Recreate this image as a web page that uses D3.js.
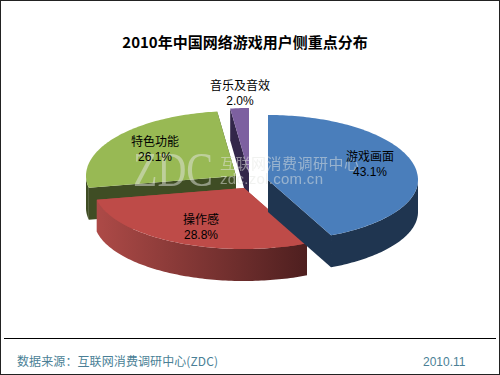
<!DOCTYPE html>
<html><head><meta charset="utf-8">
<script src="https://cdn.jsdelivr.net/npm/d3@7/dist/d3.min.js"></script>
<style>html,body{margin:0;padding:0;background:#fff}svg{display:block}</style></head>
<body><svg id="c" width="500" height="375"></svg>
<script>
const titleText = "2010年中国网络游戏用户侧重点分布";
const categories = ["游戏画面","操作感","特色功能","音乐及音效"];
const values = [43.1,28.8,26.1,2.0];
const topColors = ["#4a7ebb","#be4b48","#98b954","#7d60a0"];
const wallColors = [["#1f3550","#1f3550"],["#ad4a47","#4e1f1f"],["#3f4d24","#3f4d24"],["#33264a","#33264a"]];
const footerSource = "数据来源：互联网消费调研中心(ZDC)";
const footerDate = "2010.11";

const W=500,H=375,RX=150,RY_BACK=65,RY_FRONT=61,DEPTH=32;
const centers=[[268,180],[244,188],[236,176],[249,173]];
const labelPos=[[370,161],[201,224],[155,146],[240,90]];
const cnFont='"Noto Sans CJK SC","Liberation Sans",sans-serif';
const svg=d3.select("#c");
svg.append("rect").attr("x",0.5).attr("y",0.5).attr("width",W-1).attr("height",H-1).attr("fill","#fff").attr("stroke","#222");

const arcs=d3.pie().sort(null).value(d=>d)(values);
const sx=d3.scaleLinear().domain([0,1]).range([0,RX]);
const syBack=d3.scaleLinear().domain([0,1]).range([0,RY_BACK]);
const syFront=d3.scaleLinear().domain([0,-1]).range([0,-RY_FRONT]);
const pt=(a,c)=>{const k=Math.cos(a);return [c[0]+sx(Math.sin(a)),c[1]-(k>=0?syBack(k):syFront(k))];};
const line=d3.line();
const defs=svg.append("defs");
const sweep=(a0,a1)=>{const n=Math.max(2,Math.ceil((a1-a0)/0.02));return d3.range(n+1).map(i=>a0+(a1-a0)*i/n);};

const order=[2,3,1,0];
order.forEach(i=>{
  const d=arcs[i],c=centers[i],g=svg.append("g");
  const a0=d.startAngle,a1=d.endAngle;
  [a0,a1].forEach(a=>{
    const p=pt(a,c);
    g.append("path").attr("d",line([c,p,[p[0],p[1]+DEPTH],[c[0],c[1]+DEPTH]])+"Z").attr("fill",wallColors[i][0]);
  });
  const v0=Math.max(a0,Math.PI/2),v1=Math.min(a1,Math.PI*1.5);
  if(v1>v0){
    const id="w"+i,pL=pt(v1,c),pR=pt(v0,c);
    const gr=defs.append("linearGradient").attr("id",id).attr("gradientUnits","userSpaceOnUse")
      .attr("x1",pL[0]).attr("x2",pR[0]).attr("y1",0).attr("y2",0);
    gr.append("stop").attr("offset",0).attr("stop-color",wallColors[i][0]);
    gr.append("stop").attr("offset",1).attr("stop-color",wallColors[i][1]);
    const ang=sweep(v0,v1);
    const pts=ang.map(a=>pt(a,c)).concat(ang.slice().reverse().map(a=>{const p=pt(a,c);return [p[0],p[1]+DEPTH];}));
    g.append("path").attr("d",line(pts)+"Z").attr("fill",`url(#${id})`);
  }
  const face=[c].concat(sweep(a0,a1).map(a=>pt(a,c)));
  g.append("path").attr("d",line(face)+"Z").attr("fill",topColors[i]);
});

// watermark
defs.append("filter").attr("id","soft").append("feGaussianBlur").attr("stdDeviation",0.45);
const wm=svg.append("g").attr("fill","#e4e6e2").attr("opacity",0.5).attr("filter","url(#soft)");
wm.append("text").attr("x",133).attr("y",186).attr("font-family",'"Liberation Serif",serif').attr("font-size",48).attr("textLength",80).attr("lengthAdjust","spacingAndGlyphs").text("ZDC");
wm.append("text").attr("x",220).attr("y",169).attr("font-family",cnFont).attr("font-size",15).attr("letter-spacing",0.5).text("互联网消费调研中心");
wm.append("text").attr("x",220).attr("y",184).attr("font-family",'"Liberation Sans",sans-serif').attr("font-size",15).attr("textLength",103).text("zdc.zol.com.cn");

// labels
categories.forEach((name,i)=>{
  const t=svg.append("text").attr("text-anchor","middle").attr("font-family",cnFont).attr("font-size",12).attr("fill","#000");
  t.append("tspan").attr("x",labelPos[i][0]).attr("y",labelPos[i][1]).text(name);
  t.append("tspan").attr("x",labelPos[i][0]).attr("y",labelPos[i][1]+15).attr("font-family",'"Liberation Sans",sans-serif').text(values[i].toFixed(1)+"%");
});

svg.append("text").attr("x",245).attr("y",48).attr("text-anchor","middle").attr("font-family",cnFont).attr("font-weight","bold").attr("font-size",15).attr("fill","#000").text(titleText);
svg.append("line").attr("x1",4).attr("x2",496).attr("y1",338.5).attr("y2",338.5).attr("stroke","#000");
svg.append("text").attr("x",17).attr("y",366).attr("font-family",cnFont).attr("font-size",12).attr("textLength",201).attr("fill","#4a7f96").text(footerSource);
svg.append("text").attr("x",423).attr("y",366).attr("font-family",'"Liberation Sans",sans-serif').attr("font-size",12).attr("fill","#4a7f96").text(footerDate);
</script></body></html>
